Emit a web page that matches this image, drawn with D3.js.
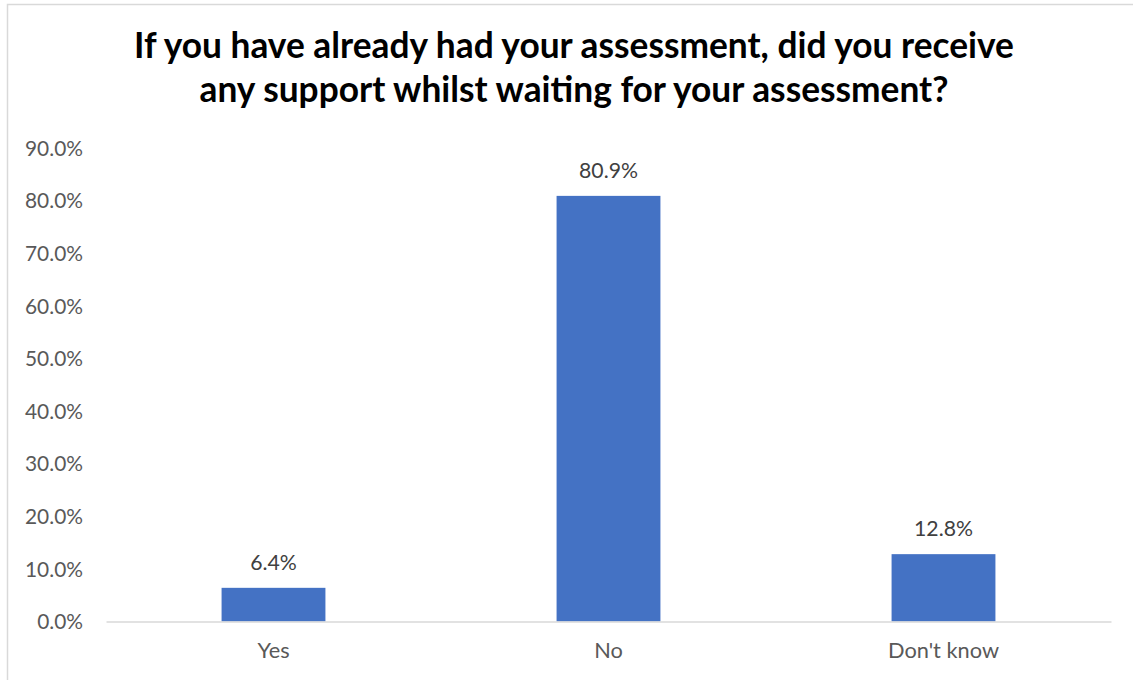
<!DOCTYPE html>
<html>
<head>
<meta charset="utf-8">
<script src="https://cdn.jsdelivr.net/npm/d3@7"></script>
<style>
  html, body { margin: 0; padding: 0; background: #fff; }
  svg { display: block; }
</style>
</head>
<body>
<svg id="chart" width="1133" height="680"></svg>
<script>
// Survey answers and their shares (percent)
const categories = ["Yes", "No", "Don't know"];
const values = [6.4, 80.9, 12.8];
const yTicks = [0, 10, 20, 30, 40, 50, 60, 70, 80, 90];
const titleLines = [
  "If you have already had your assessment, did you receive",
  "any support whilst waiting for your assessment?"
];

const W = 1133, H = 680;
const FONT = "Lato, 'Open Sans', sans-serif";
const svg = d3.select("#chart");

// Pick a font size so a sample string spans a given width
function fitSize(text, weight, width) {
  const t = svg.append("text")
    .attr("font-family", FONT).attr("font-weight", weight)
    .attr("font-size", 100).text(text);
  const w = t.node().getComputedTextLength();
  t.remove();
  return 100 * width / w;
}

// Chart frame
svg.append("rect")
  .attr("x", 7.5).attr("y", 4.5)
  .attr("width", W + 10).attr("height", H + 10)
  .attr("fill", "#fff").attr("stroke", "#d9d9d9").attr("stroke-width", 1.5);

const plot = { left: 106, right: 1111, top: 148, bottom: 621.5 };

const x = d3.scaleBand()
  .domain(categories)
  .range([plot.left, plot.right])
  .paddingInner(0.69)
  .paddingOuter(0.345);

const y = d3.scaleLinear()
  .domain([0, 90])
  .range([plot.bottom, plot.top]);

// Title
const titleSize = fitSize(titleLines[0], 700, 880);
svg.append("g").selectAll("text")
  .data(titleLines)
  .join("text")
  .attr("x", 574)
  .attr("y", (d, i) => 58 + i * 44)
  .attr("text-anchor", "middle")
  .attr("font-family", FONT)
  .attr("font-weight", 700)
  .attr("font-size", titleSize)
  .attr("fill", "#000")
  .text(d => d);

// Y axis (labels only)
const tickSize = fitSize("90.0%", 400, 58);
const yAxis = d3.axisLeft(y)
  .tickValues(yTicks)
  .tickFormat(d => d3.format(".1f")(d) + "%")
  .tickSize(0)
  .tickPadding(0);
const gy = svg.append("g")
  .attr("transform", `translate(83,0)`)
  .call(yAxis);
gy.select(".domain").remove();
gy.selectAll("text")
  .attr("font-family", FONT)
  .attr("font-size", tickSize)
  .attr("fill", "#595959")
  .attr("dy", "0.35em");

// Bars
svg.append("g").selectAll("rect")
  .data(values)
  .join("rect")
  .attr("x", (d, i) => x(categories[i]))
  .attr("y", d => y(d))
  .attr("width", x.bandwidth())
  .attr("height", d => y(0) - y(d))
  .attr("fill", "#4472C4");

// Value labels
const labelSize = fitSize("80.9%", 400, 59);
svg.append("g").selectAll("text")
  .data(values)
  .join("text")
  .attr("x", (d, i) => x(categories[i]) + x.bandwidth() / 2)
  .attr("y", d => y(d) - 18)
  .attr("text-anchor", "middle")
  .attr("font-family", FONT)
  .attr("font-size", labelSize)
  .attr("fill", "#404040")
  .text(d => d3.format(".1f")(d) + "%");

// X axis
const catSize = fitSize("Don't know", 400, 111);
const xAxis = d3.axisBottom(x).tickSize(0).tickPadding(0);
const gx = svg.append("g")
  .attr("transform", `translate(0,${plot.bottom})`)
  .call(xAxis);
gx.select(".domain")
  .attr("stroke", "#d9d9d9")
  .attr("stroke-width", 1.5);
gx.selectAll("text")
  .attr("font-family", FONT)
  .attr("font-size", catSize)
  .attr("fill", "#595959")
  .attr("dy", 0)
  .attr("y", 658 - plot.bottom);
</script>
</body>
</html>
